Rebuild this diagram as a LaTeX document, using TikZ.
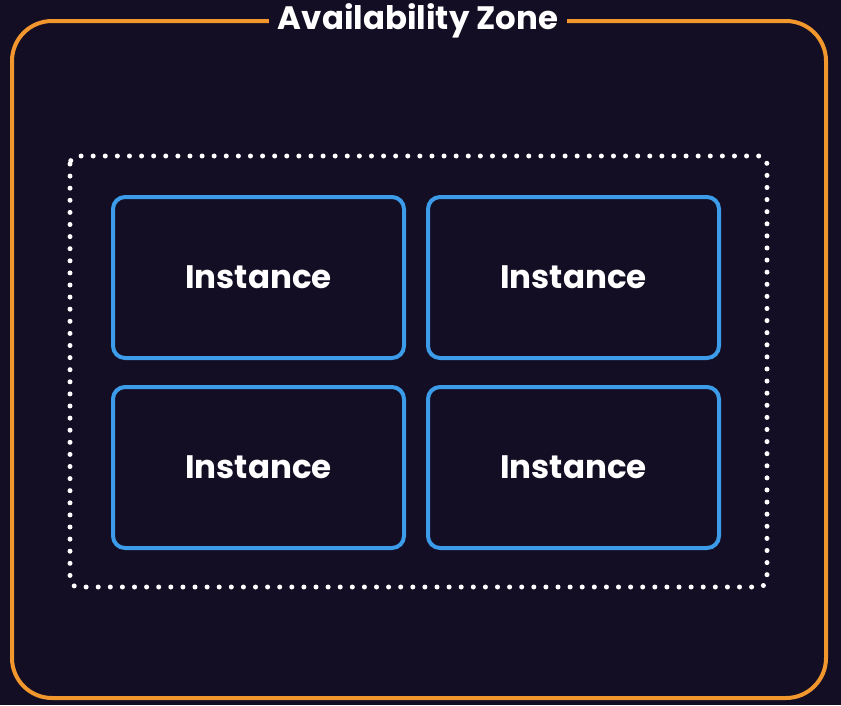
\documentclass[tikz,border=0pt]{standalone}
\usepackage{fontspec}
\setmainfont{Poppins}
\begin{document}
\begin{tikzpicture}[x=1pt,y=-1pt,
  zone/.style={draw=zoneorange,line width=4pt,rounded corners=40pt},
  group/.style={draw=white,line width=5pt,line cap=round,dash pattern=on 0pt off 12.1pt,rounded corners=8pt},
  inst/.style={draw=instblue,line width=4pt,rounded corners=12pt,minimum width=291pt,minimum height=161pt,inner sep=0pt,
    font=\fontsize{32.5}{38}\selectfont\bfseries,text=white},
  title/.style={font=\fontsize{32.4}{38}\selectfont\bfseries,text=white,fill=bgdark,inner xsep=9pt,inner ysep=2pt}]
\definecolor{bgdark}{HTML}{130E24}
\definecolor{zoneorange}{HTML}{F2962E}
\definecolor{instblue}{HTML}{3C9CEA}
% canvas
\fill[bgdark] (0,0) rectangle (841,705);
\useasboundingbox (0,0) rectangle (841,705);
% availability zone frame
\draw[zone] (12,21) rectangle (826,698);
\node[title] (az) at (418,21) {Availability Zone};
% dotted group around the instances
\draw[group] (70,156) rectangle (767,587);
% instances
\node[inst] (i1) at (258.5,277.5) {Instance};
\node[inst] (i2) at (573.5,277.5) {Instance};
\node[inst] (i3) at (258.5,467.5) {Instance};
\node[inst] (i4) at (573.5,467.5) {Instance};
\end{tikzpicture}
\end{document}
